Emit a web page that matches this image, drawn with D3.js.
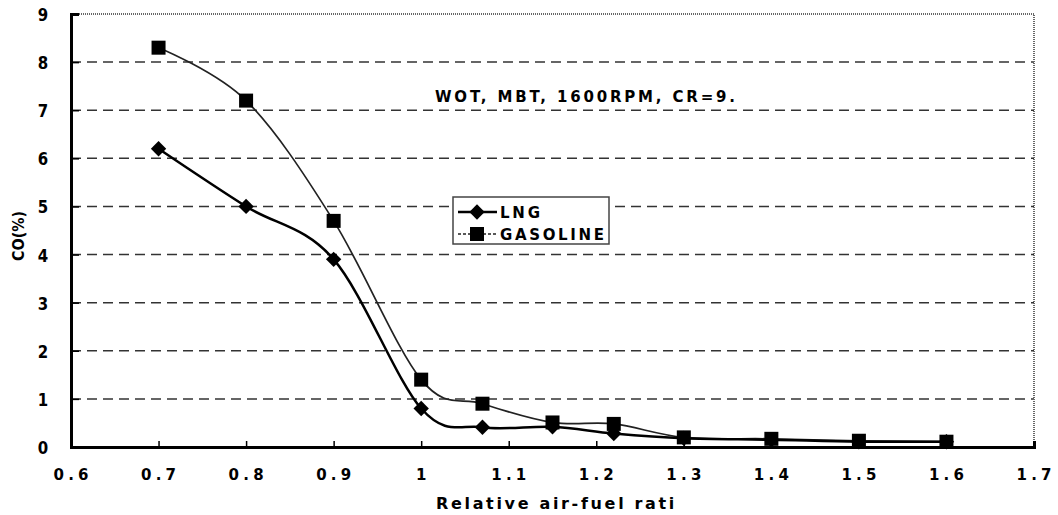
<!DOCTYPE html>
<html>
<head>
<meta charset="utf-8">
<script src="https://cdn.jsdelivr.net/npm/d3@7"></script>
<style>
    body { margin: 0; background: #fff; }
    svg text { font-family: "DejaVu Sans", "Liberation Sans", Arial, sans-serif; font-weight: bold; fill: #000; }
</style>
</head>
<body>
<svg id="chart" width="1058" height="515"></svg>
<script>
var ratios = [0.7, 0.8, 0.9, 1.0, 1.07, 1.15, 1.22, 1.3, 1.4, 1.5, 1.6];
var lngCO = [6.2, 5.0, 3.9, 0.8, 0.41, 0.42, 0.28, 0.18, 0.15, 0.11, 0.11];
var gasolineCO = [8.3, 7.2, 4.7, 1.4, 0.9, 0.51, 0.48, 0.2, 0.17, 0.13, 0.11];
var xTicks = [0.6, 0.7, 0.8, 0.9, 1, 1.1, 1.2, 1.3, 1.4, 1.5, 1.6, 1.7];
var yTicks = [0, 1, 2, 3, 4, 5, 6, 7, 8, 9];
var seriesNames = ["LNG", "GASOLINE"];
var noteText = "WOT, MBT, 1600RPM, CR=9.";

(function(){
    var left = 71,
        right = 1034,
        top = 14,
        bottom = 447;

    var svg = d3.select("#chart");

    var x = d3.scaleLinear().domain([0.6, 1.7]).range([left, right]);
    var y = d3.scaleLinear().domain([0, 9]).range([bottom, top]);

    // dashed grid lines
    svg.append("g")
        .selectAll("line")
        .data(yTicks.filter(function(d){ return d > 0 && d < 9; }))
        .enter()
        .append("line")
        .attr("x1", left)
        .attr("x2", right)
        .attr("y1", function(d){ return y(d); })
        .attr("y2", function(d){ return y(d); })
        .attr("stroke", "#333")
        .attr("stroke-width", 1.5)
        .attr("stroke-dasharray", "10,6");

    // top / right border (grey dotted)
    svg.append("path")
        .attr("d", "M" + left + "," + top + "H" + right + "V" + bottom)
        .attr("fill", "none")
        .attr("stroke", "#666")
        .attr("stroke-width", 2)
        .attr("stroke-dasharray", "1,1");

    // y axis
    var yAxis = d3.axisRight(y)
        .tickValues(yTicks)
        .tickSize(8)
        .tickFormat("");
    var gy = svg.append("g")
        .attr("transform", "translate(" + left + ",0)")
        .call(yAxis);
    gy.select(".domain").attr("stroke", "#000").attr("stroke-width", 3);
    gy.selectAll(".tick line").attr("stroke", "#000").attr("stroke-width", 1.5);

    svg.append("g")
        .selectAll("text")
        .data(yTicks)
        .enter()
        .append("text")
        .attr("transform", function(d){ return "translate(43," + (y(d) + 7) + ") scale(1,1.15)"; })
        .attr("text-anchor", "middle")
        .style("font-size", "15px")
        .text(function(d){ return d; });

    // x axis
    var xAxis = d3.axisTop(x)
        .tickValues(xTicks)
        .tickSize(6)
        .tickFormat("");
    var gx = svg.append("g")
        .attr("transform", "translate(0," + bottom + ")")
        .call(xAxis);
    gx.select(".domain").attr("stroke", "#000").attr("stroke-width", 3);
    gx.selectAll(".tick line").attr("stroke", "#000").attr("stroke-width", 1.5);

    svg.append("g")
        .selectAll("text")
        .data(xTicks)
        .enter()
        .append("text")
        .attr("x", function(d){ return x(d); })
        .attr("y", 480)
        .attr("text-anchor", "middle")
        .attr("textLength", function(d){ return String(d).length > 1 ? 35 : 9; })
        .attr("lengthAdjust", "spacing")
        .style("font-size", "15px")
        .text(function(d){ return d; });

    // axis titles
    svg.append("clipPath")
        .attr("id", "titleClip")
        .append("rect")
        .attr("x", 400).attr("y", 485).attr("width", 275).attr("height", 30);

    svg.append("text")
        .attr("clip-path", "url(#titleClip)")
        .attr("x", 436)
        .attr("y", 509)
        .attr("textLength", 252)
        .attr("lengthAdjust", "spacing")
        .style("font-size", "16px")
        .text("Relative air-fuel ratio");

    svg.append("text")
        .attr("transform", "translate(24,236) rotate(-90)")
        .attr("text-anchor", "middle")
        .attr("textLength", 50)
        .attr("lengthAdjust", "spacingAndGlyphs")
        .style("font-size", "15px")
        .text("CO(%)");

    svg.append("text")
        .attr("x", 435)
        .attr("y", 102)
        .attr("textLength", 300)
        .attr("lengthAdjust", "spacing")
        .style("font-size", "15px")
        .text(noteText);

    // curves
    var line = d3.line()
        .x(function(d){ return x(d[0]); })
        .y(function(d){ return y(d[1]); })
        .curve(d3.curveCatmullRom.alpha(0));

    var lngData = d3.zip(ratios, lngCO);
    var gasData = d3.zip(ratios, gasolineCO);

    svg.append("path")
        .datum(gasData)
        .attr("d", line)
        .attr("fill", "none")
        .attr("stroke", "#222")
        .attr("stroke-width", 1.7);

    svg.append("path")
        .datum(lngData)
        .attr("d", line)
        .attr("fill", "none")
        .attr("stroke", "#000")
        .attr("stroke-width", 2.5);

    var diamond = d3.symbol().type(d3.symbolDiamond2).size(150);

    svg.append("g")
        .selectAll("rect")
        .data(gasData)
        .enter()
        .append("rect")
        .attr("x", function(d){ return x(d[0]) - 7; })
        .attr("y", function(d){ return y(d[1]) - 7; })
        .attr("width", 14)
        .attr("height", 14)
        .attr("fill", "#000");

    svg.append("g")
        .selectAll("path")
        .data(lngData)
        .enter()
        .append("path")
        .attr("d", diamond)
        .attr("transform", function(d){ return "translate(" + x(d[0]) + "," + y(d[1]) + ")"; })
        .attr("fill", "#000");

    // legend
    var legend = svg.append("g");
    legend.append("rect")
        .attr("x", 453).attr("y", 197)
        .attr("width", 156).attr("height", 47)
        .attr("fill", "#fff")
        .attr("stroke", "#444")
        .attr("stroke-width", 1.5);

    legend.append("line")
        .attr("x1", 458).attr("x2", 497).attr("y1", 212).attr("y2", 212)
        .attr("stroke", "#000").attr("stroke-width", 2.5);
    legend.append("path")
        .attr("d", diamond)
        .attr("transform", "translate(477,212)")
        .attr("fill", "#000");

    legend.append("line")
        .attr("x1", 458).attr("x2", 497).attr("y1", 234).attr("y2", 234)
        .attr("stroke", "#222").attr("stroke-width", 1.5)
        .attr("stroke-dasharray", "3,2");
    legend.append("rect")
        .attr("x", 470).attr("y", 227).attr("width", 14).attr("height", 14)
        .attr("fill", "#000");

    legend.selectAll("text")
        .data(seriesNames)
        .enter()
        .append("text")
        .attr("x", 500)
        .attr("y", function(d,i){ return 218 + i * 22; })
        .attr("textLength", function(d,i){ return i == 0 ? 40 : 104; })
        .attr("lengthAdjust", "spacing")
        .style("font-size", "15px")
        .text(function(d){ return d; });
})();
</script>
</body>
</html>
